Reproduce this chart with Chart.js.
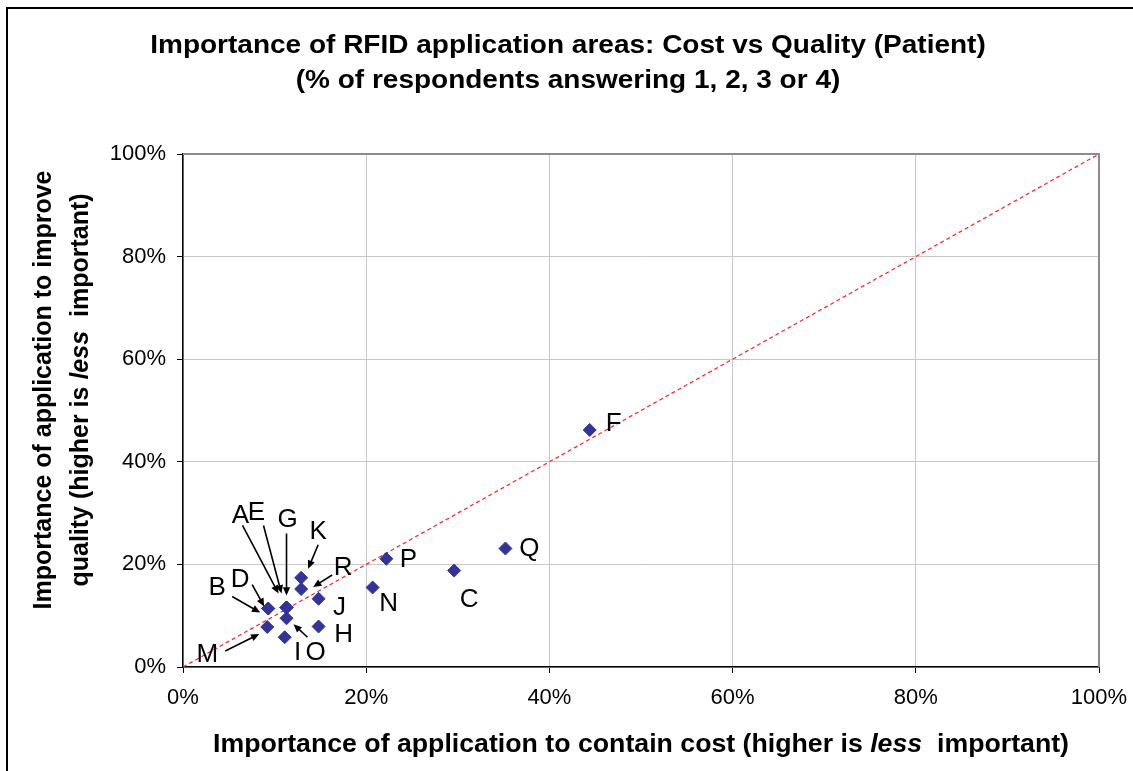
<!DOCTYPE html>
<html>
<head>
<meta charset="utf-8">
<title>Importance of RFID application areas: Cost vs Quality (Patient)</title>
<script src="https://cdn.jsdelivr.net/npm/chart.js@4/dist/chart.umd.min.js"></script>
<style>
    html, body { margin: 0; padding: 0; background: #ffffff; }
    #wrap { width: 1133px; height: 771px; position: relative; }
</style>
</head>
<body>
<div id="wrap"><canvas id="chart-rfid" width="1133" height="771"></canvas></div>
<script>
// Application areas (L is not shown in the source chart)
const areaLabels  = ['A', 'B', 'C', 'D', 'E', 'F', 'G', 'H', 'I', 'J', 'K', 'M', 'N', 'O', 'P', 'Q', 'R'];
// % of respondents answering 1-4, cost containment (x) and quality improvement (y)
const costValues    = [11.3, 9.3, 29.6, 9.3, 11.3, 44.4, 11.3, 14.8, 11.1, 14.8, 12.9, 9.2, 20.7, 11.3, 22.2, 35.2, 12.9];
const qualityValues = [11.6, 11.4, 18.8, 11.4, 11.6, 46.2, 11.6, 7.9, 5.8, 13.3, 17.4, 7.8, 15.5, 9.5, 21.1, 23.1, 15.2];
const axisTicks = [0, 20, 40, 60, 80, 100];
const diagonal = [0, 100];

const titleLines = [
    [['Importance of RFID application areas: Cost vs Quality (Patient)', false]],
    [['(% of respondents answering 1, 2, 3 or 4)', false]]
];
const xTitleParts = [['Importance of application to contain cost (higher is ', false], ['less', true], ['  important)', false]];
const yTitleLine1 = [['Importance of application to improve', false]];
const yTitleLine2 = [['quality (higher is ', false], ['less', true], ['  important)', false]];

// label placement relative to each marker (px): text offset, optional arrow from/to
const labelPlacement = {
    A: { dx: -46, dy: -92, arrow: [-44, -82, -8, -14] },
    E: { dx: -30, dy: -95, arrow: [-23, -82, -5, -14] },
    G: { dx: 1, dy: -88, arrow: [0, -74, 0, -12] },
    K: { dx: 17, dy: -46, arrow: [17, -33, 7, -9] },
    R: { dx: 42, dy: -21, arrow: [31, -14, 12, -2] },
    B: { dx: -51, dy: -21, arrow: [-36, -12, -8, 4] },
    D: { dx: -28, dy: -29, arrow: [-16, -24, -4, -2] },
    J: { dx: 21, dy: 9 },
    H: { dx: 25, dy: 8 },
    N: { dx: 16, dy: 16 },
    P: { dx: 22, dy: 1 },
    M: { dx: -60, dy: 28, arrow: [-42, 24, -8, 7] },
    I: { dx: 13, dy: 16 },
    O: { dx: 29, dy: 35, arrow: [21, 19, 7, 6] },
    F: { dx: 24, dy: -6 },
    Q: { dx: 24, dy: 0 },
    C: { dx: 15, dy: 29 }
};

const FONT = "'Liberation Sans', Arial, sans-serif";

// bold text with optional italic runs, centred on (cx, cy), stretched by sx horizontally
function drawRich(ctx, parts, size, cx, cy, sx = 1) {
    const fonts = parts.map(p => (p[1] ? 'italic bold ' : 'bold ') + size + 'px ' + FONT);
    let total = 0;
    const widths = parts.map((p, i) => { ctx.font = fonts[i]; const w = ctx.measureText(p[0]).width; total += w; return w; });
    ctx.save();
    ctx.translate(cx, cy);
    ctx.scale(sx, 1);
    let x = -total / 2;
    ctx.textBaseline = 'middle';
    ctx.textAlign = 'left';
    parts.forEach((p, i) => {
        ctx.font = fonts[i];
        ctx.fillText(p[0], x, 0);
        x += widths[i];
    });
    ctx.restore();
}

const decorPlugin = {
    id: 'decor',
    afterDraw(chart) {
        const ctx = chart.ctx;
        const area = chart.chartArea;
        ctx.save();

        // outer frame (top and left visible)
        ctx.strokeStyle = '#000000';
        ctx.lineWidth = 2;
        ctx.beginPath();
        ctx.moveTo(7, 771);
        ctx.lineTo(7, 8);
        ctx.lineTo(1133, 8);
        ctx.stroke();

        // plot area top/right border
        ctx.strokeStyle = '#8c8c8c';
        ctx.lineWidth = 2;
        ctx.beginPath();
        ctx.moveTo(area.left, area.top);
        ctx.lineTo(area.right, area.top);
        ctx.lineTo(area.right, area.bottom);
        ctx.stroke();

        // titles
        ctx.fillStyle = '#000000';
        drawRich(ctx, titleLines[0], 26, 568, 46, 1.077);
        drawRich(ctx, titleLines[1], 26, 568, 81, 1.077);

        drawRich(ctx, xTitleParts, 25, (area.left + area.right) / 2, 745, 1.068);

        ctx.save();
        ctx.translate(44, 390);
        ctx.rotate(-Math.PI / 2);
        drawRich(ctx, yTitleLine1, 25, 0, 0);
        ctx.restore();
        ctx.save();
        ctx.translate(81, 390);
        ctx.rotate(-Math.PI / 2);
        drawRich(ctx, yTitleLine2, 25, 0, 0);
        ctx.restore();

        // point labels and arrows
        const meta = chart.getDatasetMeta(0);
        ctx.font = '26px ' + FONT;
        ctx.textAlign = 'center';
        ctx.textBaseline = 'middle';
        meta.data.forEach((pt, i) => {
            const place = labelPlacement[areaLabels[i]];
            if (!place) return;
            ctx.fillStyle = '#000000';
            ctx.fillText(areaLabels[i], pt.x + place.dx, pt.y + place.dy);
            if (place.arrow) {
                const [x1, y1, x2, y2] = place.arrow;
                const sx = pt.x + x1, sy = pt.y + y1, ex = pt.x + x2, ey = pt.y + y2;
                const ang = Math.atan2(ey - sy, ex - sx);
                const head = 9;
                ctx.strokeStyle = '#000000';
                ctx.lineWidth = 1.6;
                ctx.beginPath();
                ctx.moveTo(sx, sy);
                ctx.lineTo(ex - Math.cos(ang) * head * 0.8, ey - Math.sin(ang) * head * 0.8);
                ctx.stroke();
                ctx.beginPath();
                ctx.moveTo(ex, ey);
                ctx.lineTo(ex - head * Math.cos(ang - 0.42), ey - head * Math.sin(ang - 0.42));
                ctx.lineTo(ex - head * Math.cos(ang + 0.42), ey - head * Math.sin(ang + 0.42));
                ctx.closePath();
                ctx.fill();
            }
        });
        ctx.restore();
    }
};

function axisOptions(isX) {
    return {
        type: 'linear',
        min: axisTicks[0],
        max: axisTicks[axisTicks.length - 1],
        afterBuildTicks: scale => { scale.ticks = axisTicks.map(v => ({ value: v })); },
        afterFit: scale => {
            if (isX) {
                scale.height = 104;
                scale.paddingLeft = 0;
                scale.paddingRight = 0;
            } else {
                scale.width = 183;
                scale.paddingTop = 0;
                scale.paddingBottom = 0;
            }
        },
        border: { display: true, color: '#000000', width: 1.5 },
        grid: {
            color: '#c8c8c8',
            lineWidth: 1,
            tickColor: '#000000',
            tickLength: 6,
            drawTicks: true
        },
        ticks: {
            color: '#000000',
            font: { family: FONT, size: 22 },
            padding: isX ? 12 : 11,
            maxRotation: 0,
            autoSkip: false,
            callback: v => v + '%'
        }
    };
}

new Chart(document.getElementById('chart-rfid').getContext('2d'), {
    type: 'scatter',
    data: {
        datasets: [
            {
                label: 'Application areas',
                data: costValues.map((c, i) => ({ x: c, y: qualityValues[i] })),
                backgroundColor: '#333399',
                borderColor: '#333399',
                borderWidth: 1,
                pointStyle: 'rectRot',
                pointRadius: 6.5,
                order: 0
            },
            {
                label: 'Parity',
                type: 'line',
                data: diagonal.map(v => ({ x: v, y: v })),
                borderColor: '#ff2020',
                borderWidth: 1.2,
                borderDash: [4, 3],
                pointRadius: 0,
                fill: false,
                order: 1
            }
        ]
    },
    options: {
        responsive: false,
        animation: false,
        devicePixelRatio: 1,
        layout: { padding: { top: 154, right: 34, left: 0, bottom: 0 } },
        scales: { x: axisOptions(true), y: axisOptions(false) },
        plugins: {
            legend: { display: false },
            tooltip: { enabled: false },
            title: { display: false }
        }
    },
    plugins: [decorPlugin]
});
</script>
</body>
</html>
